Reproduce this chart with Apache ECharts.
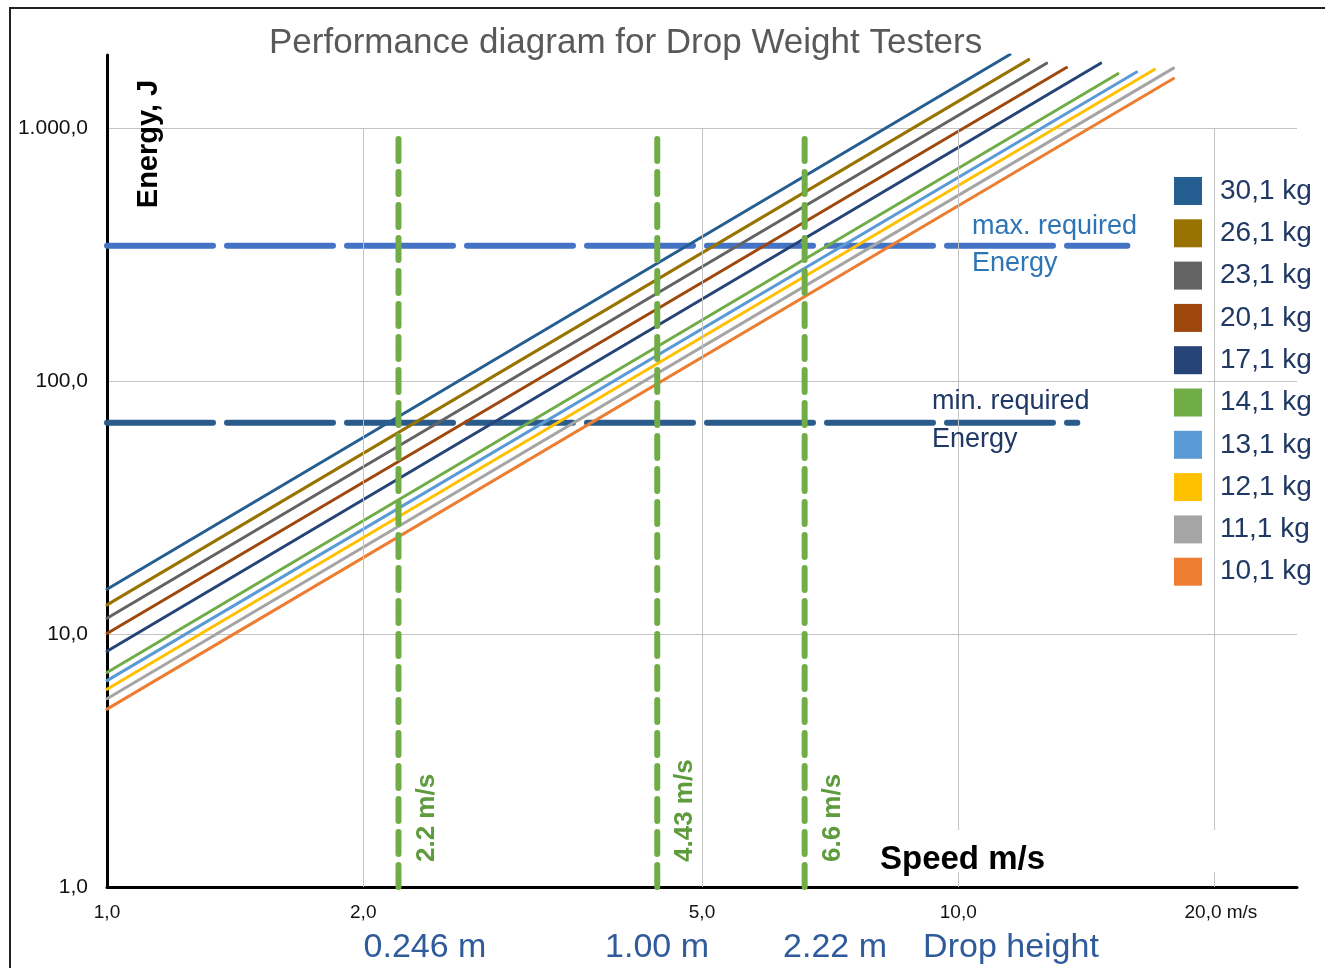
<!DOCTYPE html>
<html><head><meta charset="utf-8">
<script src="https://cdn.jsdelivr.net/npm/echarts@6/dist/echarts.min.js"></script>
<style>html,body{margin:0;padding:0;background:#fff}#c{width:1325px;height:968px}</style>
</head><body><div id="c"></div>
<script>
// ---- data ----
const massLabels = ['30,1 kg','26,1 kg','23,1 kg','20,1 kg','17,1 kg','14,1 kg','13,1 kg','12,1 kg','11,1 kg','10,1 kg'];
const startSpeed = [1,1,1,1,1,1,1,1,1,1];
const startEnergy = [15.05,13.05,11.55,10.05,8.55,7.05,6.55,6.05,5.55,5.05];
const endSpeed = [11.5,12.1,12.7,13.4,14.7,15.4,16.2,17.0,17.9,17.9];
const endEnergy = [1960,1870,1810,1740,1810,1645,1670,1710,1730,1575];
const requiredNames = ['max. required Energy','min. required Energy'];
const requiredEnergy = [343, 68.5];
const requiredEndSpeed = [15.8, 13.8];
const testSpeeds = [2.2, 4.43, 6.6];
const testSpeedLabels = ['2.2 m/s','4.43 m/s','6.6 m/s'];
const dropHeightLabels = ['0.246 m','1.00 m','2.22 m','Drop height'];
const xTickValues = [1,2,5,10,20];
const xTickLabels = ['1,0','2,0','5,0','10,0','20,0 m/s'];
const yTickValues = [1,10,100,1000];
const yTickLabels = ['1,0','10,0','100,0','1.000,0'];
const gridSpeeds = [2,5,10,20];
const gridTopEnergy = 1000;

// ---- styles ----
const colors = ['#255E91','#997300','#636363','#9E480E','#264478','#70AD47','#5B9BD5','#FFC000','#A5A5A5','#ED7D31'];
const requiredColors = ['#4472C4','#2A5B8C'];
const FONT = '"Liberation Sans", Arial, sans-serif';

const chart = echarts.init(document.getElementById('c'), null, {renderer:'canvas'});

const series = [];
series.push({
  type:'line', name:'grid', data:[], silent:true, z:1,
  markLine:{
    silent:true, symbol:['none','none'], label:{show:false}, animation:false,
    lineStyle:{color:'#c4c4c4', width:1, type:'solid'},
    data: gridSpeeds.map(v => [{coord:[v, gridTopEnergy]}, {coord:[v, 1]}])
  }
});
requiredNames.forEach((n,i) => {
  series.push({
    type:'line', name:n, silent:true, symbol:'none', z:3,
    data:[[1, requiredEnergy[i]], [requiredEndSpeed[i], requiredEnergy[i]]],
    lineStyle:{color:requiredColors[i], width:6, type:[106,14], cap:'round'}
  });
});
massLabels.forEach((n,i) => {
  series.push({
    type:'line', name:n, silent:true, symbol:'none', z:4,
    data:[[startSpeed[i], startEnergy[i]], [endSpeed[i], endEnergy[i]]],
    lineStyle:{color:colors[i], width:3, cap:'round'},
    itemStyle:{color:colors[i]}
  });
});
testSpeeds.forEach((v,i) => {
  series.push({
    type:'line', name:testSpeedLabels[i], silent:true, symbol:'none', z:5,
    data:[[v, 1], [v, gridTopEnergy]],
    lineStyle:{color:'#70AD47', width:6, type:[22,11], cap:'round'}
  });
});

function yLabel(v){
  for (let i=0;i<yTickValues.length;i++){
    if (Math.abs(Math.log10(v)-Math.log10(yTickValues[i]))<1e-6) return yTickLabels[i];
  }
  return '';
}

chart.setOption({
  animation:false,
  backgroundColor:'#fff',
  title:{
    text:'Performance diagram for Drop Weight Testers',
    left:264, top:21,
    textStyle:{fontFamily:FONT, fontSize:35, fontWeight:'normal', color:'#595959'}
  },
  legend:{
    data:massLabels, orient:'vertical', left:1174, top:177, padding:0,
    itemWidth:28, itemHeight:28, itemGap:14.3, icon:'rect',
    textStyle:{fontFamily:FONT, fontSize:28, color:'#1F3864', padding:[0,0,0,13], lineHeight:28}
  },
  grid:{left:107, right:28, top:55, bottom:81, containLabel:false},
  xAxis:{
    type:'log', logBase:10, min:1, max:25,
    axisLine:{show:true, lineStyle:{color:'#000', width:3}},
    axisTick:{show:false}, axisLabel:{show:false}, splitLine:{show:false}
  },
  yAxis:{
    type:'log', logBase:10, min:1, max:1950,
    axisLine:{show:true, lineStyle:{color:'#000', width:3}},
    axisTick:{show:false},
    axisLabel:{formatter:yLabel, fontFamily:FONT, fontSize:21, color:'#111', margin:19},
    splitLine:{show:true, showMinLine:false, showMaxLine:false, lineStyle:{color:'#c4c4c4', width:1}}
  },
  series
});

const g = [];
g.push({type:'rect', shape:{x:10, y:8, width:1400, height:1100}, style:{fill:null, stroke:'#222', lineWidth:2}, z:20, silent:true});
g.push({type:'rect', shape:{x:870, y:830, width:420, height:42}, style:{fill:'#fff'}, z:10, silent:true});
xTickValues.forEach((v,i) => {
  const p = chart.convertToPixel({gridIndex:0}, [v, 1]);
  const last = i === xTickValues.length-1;
  g.push({type:'text', x: last ? p[0]-30 : p[0], y:p[1]+26, z:11, silent:true,
    style:{text:xTickLabels[i], font:'19px '+FONT, fill:'#111', align: last?'left':'center', verticalAlign:'middle'}});
});
testSpeeds.forEach((v,i) => {
  const p = chart.convertToPixel({gridIndex:0}, [v, 1]);
  g.push({type:'text', x:p[0]+28, y:p[1]-25, rotation:Math.PI/2, z:11, silent:true,
    style:{text:testSpeedLabels[i], font:'bold 26px '+FONT, fill:'#5E9B3C', align:'left', verticalAlign:'middle'}});
});
const dropX = [425, 657, 835, 1011];
dropHeightLabels.forEach((t,i) => {
  g.push({type:'text', x:dropX[i], y:948, z:11, silent:true,
    style:{text:t, font:'34px '+FONT, fill:'#2F5B9A', align:'center', verticalAlign:'middle'}});
});
g.push({type:'text', x:880, y:860, z:11, silent:true,
  style:{text:'Speed m/s', font:'bold 33px '+FONT, fill:'#000', align:'left', verticalAlign:'middle'}});
g.push({type:'text', x:149, y:144, rotation:Math.PI/2, z:11, silent:true,
  style:{text:'Energy, J', font:'bold 29px '+FONT, fill:'#000', align:'center', verticalAlign:'middle'}});
g.push({type:'text', x:972, y:227, z:11, silent:true,
  style:{text:'max. required', font:'27px '+FONT, fill:'#2E75B6', align:'left', verticalAlign:'middle'}});
g.push({type:'text', x:972, y:264, z:11, silent:true,
  style:{text:'Energy', font:'27px '+FONT, fill:'#2E75B6', align:'left', verticalAlign:'middle'}});
g.push({type:'text', x:932, y:402, z:11, silent:true,
  style:{text:'min. required', font:'27px '+FONT, fill:'#1F3864', align:'left', verticalAlign:'middle'}});
g.push({type:'text', x:932, y:440, z:11, silent:true,
  style:{text:'Energy', font:'27px '+FONT, fill:'#1F3864', align:'left', verticalAlign:'middle'}});
chart.setOption({graphic:g});
</script></body></html>
